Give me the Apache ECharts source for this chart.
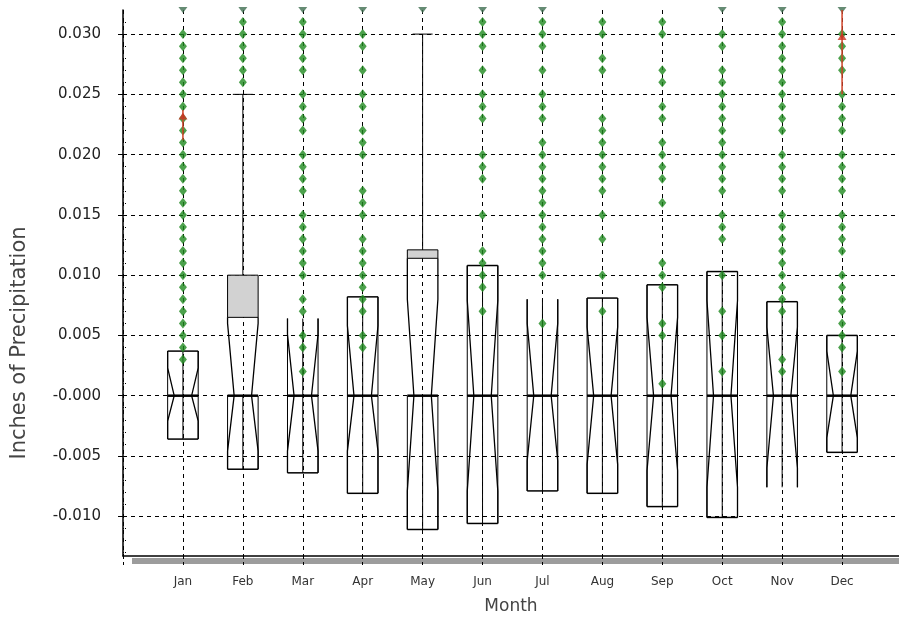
<!DOCTYPE html>
<html>
<head>
<meta charset="utf-8">
<script src="https://cdn.jsdelivr.net/npm/echarts@6/dist/echarts.min.js"></script>
<style>
html, body { margin: 0; padding: 0; background: #fff; }
#chart-panel { width: 899px; height: 617px; }
</style>
</head>
<body>
<div id="chart-panel"></div>
<script>
var chart = echarts.init(document.getElementById('chart-panel'));

// months on the x axis
var months = ['Jan', 'Feb', 'Mar', 'Apr', 'May', 'Jun', 'Jul', 'Aug', 'Sep', 'Oct', 'Nov', 'Dec'];
// box: lower / upper hinge and median
var boxLow = [-0.0036, -0.0061, -0.0064, -0.0081, -0.0111, -0.0106, -0.0079, -0.0081, -0.0092, -0.0101, -0.0076, -0.0047];
var boxHigh = [0.0037, 0.0100, 0.0064, 0.0082, 0.0121, 0.0108, 0.0080, 0.0081, 0.0092, 0.0103, 0.0078, 0.0050];
var medians = [0, 0, 0, 0, 0, 0, 0, 0, 0, 0, 0, 0];
// notch limits
var notchLow = [-0.0021, -0.0046, -0.0046, -0.0046, -0.0079, -0.0079, -0.0054, -0.0057, -0.0062, -0.0076, -0.0060, -0.0035];
var notchHigh = [0.0023, 0.0060, 0.0051, 0.0058, 0.0080, 0.0079, 0.0060, 0.0057, 0.0065, 0.0079, 0.0057, 0.0037];
// shaded part of the box above the notch (only Feb and May)
var shadeLow = [null, 0.0065, null, null, 0.0114, null, null, null, null, null, null, null];
// upper whiskers
var whiskerHigh = [null, 0.025, null, null, 0.030, null, null, null, null, null, null, null];
// which boxes have a drawn top / bottom edge
var topEdge = [1, 0, 0, 1, 0, 1, 0, 1, 1, 1, 1, 1];
var bottomEdge = [1, 1, 1, 1, 1, 1, 1, 1, 1, 1, 0, 1];
// outlier values (green points)
var outliers = [
    [0.003, 0.004, 0.005, 0.006, 0.007, 0.008, 0.009, 0.010, 0.011, 0.012, 0.013, 0.014, 0.015, 0.016, 0.017, 0.018, 0.019, 0.020, 0.021, 0.022, 0.023, 0.024, 0.025, 0.026, 0.027, 0.028, 0.029, 0.030],
    [0.026, 0.027, 0.028, 0.029, 0.030, 0.031],
    [0.002, 0.004, 0.005, 0.007, 0.008, 0.010, 0.011, 0.012, 0.013, 0.014, 0.015, 0.017, 0.018, 0.019, 0.020, 0.022, 0.023, 0.024, 0.025, 0.027, 0.028, 0.029, 0.030, 0.031],
    [0.004, 0.005, 0.007, 0.008, 0.009, 0.010, 0.011, 0.012, 0.013, 0.015, 0.016, 0.017, 0.020, 0.021, 0.022, 0.024, 0.025, 0.027, 0.029, 0.030],
    [],
    [0.007, 0.009, 0.010, 0.011, 0.012, 0.015, 0.018, 0.019, 0.020, 0.023, 0.024, 0.025, 0.027, 0.029, 0.030, 0.031],
    [0.006, 0.010, 0.011, 0.012, 0.013, 0.014, 0.015, 0.016, 0.017, 0.018, 0.019, 0.020, 0.021, 0.023, 0.024, 0.025, 0.027, 0.029, 0.030, 0.031],
    [0.007, 0.010, 0.013, 0.015, 0.017, 0.018, 0.019, 0.020, 0.021, 0.022, 0.023, 0.027, 0.028, 0.030, 0.031],
    [0.001, 0.005, 0.006, 0.009, 0.010, 0.011, 0.016, 0.018, 0.019, 0.020, 0.021, 0.023, 0.024, 0.026, 0.027, 0.030, 0.031],
    [0.002, 0.005, 0.007, 0.010, 0.013, 0.014, 0.015, 0.017, 0.018, 0.019, 0.020, 0.021, 0.022, 0.023, 0.024, 0.025, 0.026, 0.027, 0.029, 0.030],
    [0.002, 0.003, 0.007, 0.008, 0.009, 0.010, 0.011, 0.012, 0.013, 0.014, 0.015, 0.017, 0.018, 0.019, 0.020, 0.022, 0.023, 0.024, 0.025, 0.026, 0.027, 0.028, 0.029, 0.030, 0.031],
    [0.002, 0.004, 0.005, 0.006, 0.007, 0.008, 0.009, 0.010, 0.012, 0.013, 0.014, 0.015, 0.017, 0.018, 0.019, 0.020, 0.022, 0.023, 0.024, 0.025, 0.027, 0.028, 0.029, 0.030]
];
// months with points above the top of the plot
var clippedAbove = [1, 1, 1, 1, 1, 1, 1, 0, 0, 1, 1, 1];
// mean markers (red) where visible
var meanValues = [0.0232, null, null, null, null, null, null, null, null, null, null, 0.0298];
var meanLow = [0.0212, null, null, null, null, null, null, null, null, null, null, 0.025];
var meanHigh = [0.0237, null, null, null, null, null, null, null, null, null, null, 0.032];

var yMin = -0.0133, yMax = 0.032;

var boxData = [], dotData = [], topData = [], meanData = [], meanBars = [];
for (var i = 0; i < months.length; i++) {
    boxData.push([i, boxLow[i], boxHigh[i]]);
    for (var k = 0; k < outliers[i].length; k++) {
        dotData.push([i, outliers[i][k]]);
    }
    if (clippedAbove[i]) topData.push([i, yMax]);
    if (meanValues[i] != null) {
        meanData.push([i, meanValues[i]]);
        meanBars.push([i, meanLow[i], meanHigh[i]]);
    }
}

var black = { stroke: '#000', lineWidth: 1, fill: null };

function renderBox(params, api) {
    var i = params.dataIndex;
    var cx = api.coord([i, 0])[0];
    var w = api.size([1, 0])[0] * 0.255;
    var nw = w * 0.57;
    function Y(v) { return api.coord([i, v])[1]; }
    var q1 = Y(boxLow[i]), q3 = Y(boxHigh[i]), med = Y(medians[i]);
    var nLo = Y(notchLow[i]), nHi = Y(notchHigh[i]);
    var shaded = shadeLow[i] != null;
    var sTop = shaded ? Y(shadeLow[i]) : q3;
    var sideTop = shaded ? med : q3;
    var kids = [];
    if (shaded) {
        kids.push({ type: 'rect', shape: { x: cx - w, y: q3, width: 2 * w, height: sTop - q3 },
            style: { fill: '#d2d2d2', stroke: '#000', lineWidth: 1 } });
    }
    if (whiskerHigh[i] != null) {
        var wy = Y(whiskerHigh[i]);
        kids.push({ type: 'line', shape: { x1: cx, y1: q3, x2: cx, y2: wy }, style: black });
        kids.push({ type: 'line', shape: { x1: cx - 10, y1: wy, x2: cx + 10, y2: wy }, style: black });
    }
    // outer sides
    kids.push({ type: 'line', shape: { x1: cx - w, y1: q1, x2: cx - w, y2: sideTop }, style: black });
    kids.push({ type: 'line', shape: { x1: cx + w, y1: q1, x2: cx + w, y2: sideTop }, style: black });
    if (topEdge[i] && !shaded) {
        kids.push({ type: 'line', shape: { x1: cx - w, y1: q3, x2: cx + w, y2: q3 }, style: { stroke: '#000', lineWidth: 1.5 } });
    }
    if (bottomEdge[i]) {
        kids.push({ type: 'line', shape: { x1: cx - w, y1: q1, x2: cx + w, y2: q1 }, style: { stroke: '#000', lineWidth: 1.5 } });
    }
    // notch outline
    [-1, 1].forEach(function (s) {
        kids.push({ type: 'polyline', shape: { points: [
            [cx + s * w, sTop], [cx + s * w, nHi], [cx + s * nw, med], [cx + s * w, nLo], [cx + s * w, q1]
        ] }, style: { stroke: '#000', lineWidth: 1.3, fill: null } });
    });
    // centre line
    kids.push({ type: 'line', shape: { x1: cx, y1: q1, x2: cx, y2: sideTop }, style: black });
    // median
    kids.push({ type: 'line', shape: { x1: cx - w, y1: med, x2: cx + w, y2: med }, style: { stroke: '#000', lineWidth: 2.5 } });
    return { type: 'group', children: kids };
}

function renderMeanBar(params, api) {
    var i = api.value(0);
    var p1 = api.coord([i, api.value(1)]);
    var p2 = api.coord([i, api.value(2)]);
    return { type: 'line', shape: { x1: p1[0], y1: p1[1], x2: p2[0], y2: p2[1] },
        style: { stroke: '#d0442a', lineWidth: 1.5 } };
}

var fontFam = 'DejaVu Sans';

var option = {
    animation: false,
    backgroundColor: '#fff',
    grid: { left: 123, right: 0, top: 10, bottom: 61, outerBoundsMode: 'none', containLabel: false },
    xAxis: {
        type: 'value',
        min: -1,
        max: 11.95,
        interval: 1,
        name: 'Month',
        nameLocation: 'middle',
        nameGap: 42,
        nameTextStyle: { fontFamily: fontFam, fontSize: 17, color: '#444' },
        axisLine: { onZero: false, lineStyle: { color: '#000', width: 1.5 } },
        axisTick: { length: 10, lineStyle: { color: '#000', type: [3, 3] } },
        axisLabel: {
            margin: 20, fontFamily: fontFam, fontSize: 12, color: '#333',
            formatter: function (v) { return months[v] || ''; }
        },
        splitLine: { show: true, lineStyle: { color: '#000', type: [4, 4], width: 1 } }
    },
    yAxis: [{
        type: 'value',
        min: yMin,
        max: yMax,
        minInterval: 0.005,
        maxInterval: 0.005,
        splitNumber: 9,
        name: 'Inches of Precipitation',
        nameLocation: 'middle',
        nameGap: 93,
        nameTextStyle: { fontFamily: fontFam, fontSize: 21, color: '#444', padding: [0, 120, 0, 0] },
        axisLine: { show: true, onZero: false, lineStyle: { color: '#000', width: 1.5 } },
        axisTick: { show: true, length: 5, lineStyle: { color: '#000' } },
        axisLabel: {
            margin: 22, fontFamily: fontFam, fontSize: 15, color: '#222',
            showMinLabel: false, showMaxLabel: false,
            formatter: function (v) {
                if (Math.abs(v) < 1e-9) return '-0.000';
                return v.toFixed(3);
            }
        },
        splitLine: { show: true, showMinLine: false, showMaxLine: false,
            lineStyle: { color: '#000', type: [4, 4], width: 1 } }
    }, {
        type: 'value',
        min: yMin,
        max: yMax,
        minInterval: 0.005,
        maxInterval: 0.005,
        splitNumber: 9,
        position: 'left',
        axisLine: { show: false, onZero: false },
        axisTick: { show: false, inside: true },
        minorTick: { show: true, splitNumber: 5, length: 4, lineStyle: { color: '#000', type: [1, 1] } },
        axisLabel: { show: false },
        splitLine: { show: false }
    }],
    graphic: [{
        type: 'rect', left: 132, top: 558, z: -1,
        shape: { width: 767, height: 6 },
        style: { fill: '#9c9c9c' }
    }],
    series: [{
        type: 'custom',
        name: 'box',
        renderItem: renderBox,
        data: boxData,
        z: 3
    }, {
        type: 'scatter',
        name: 'outliers',
        data: dotData,
        symbol: 'diamond',
        symbolSize: [8, 10],
        itemStyle: { color: '#1f8a1f' },
        z: 5
    }, {
        type: 'scatter',
        name: 'above',
        data: topData,
        symbol: 'triangle',
        symbolRotate: 180,
        symbolSize: [9, 6],
        clip: false,
        itemStyle: { color: '#3e6e50' },
        z: 5
    }, {
        type: 'custom',
        name: 'meanBar',
        renderItem: renderMeanBar,
        data: meanBars,
        z: 6
    }, {
        type: 'scatter',
        name: 'mean',
        data: meanData,
        symbol: 'triangle',
        symbolSize: [9, 7],
        itemStyle: { color: '#cc3322' },
        z: 7
    }]
};

chart.setOption(option);
</script>
</body>
</html>
